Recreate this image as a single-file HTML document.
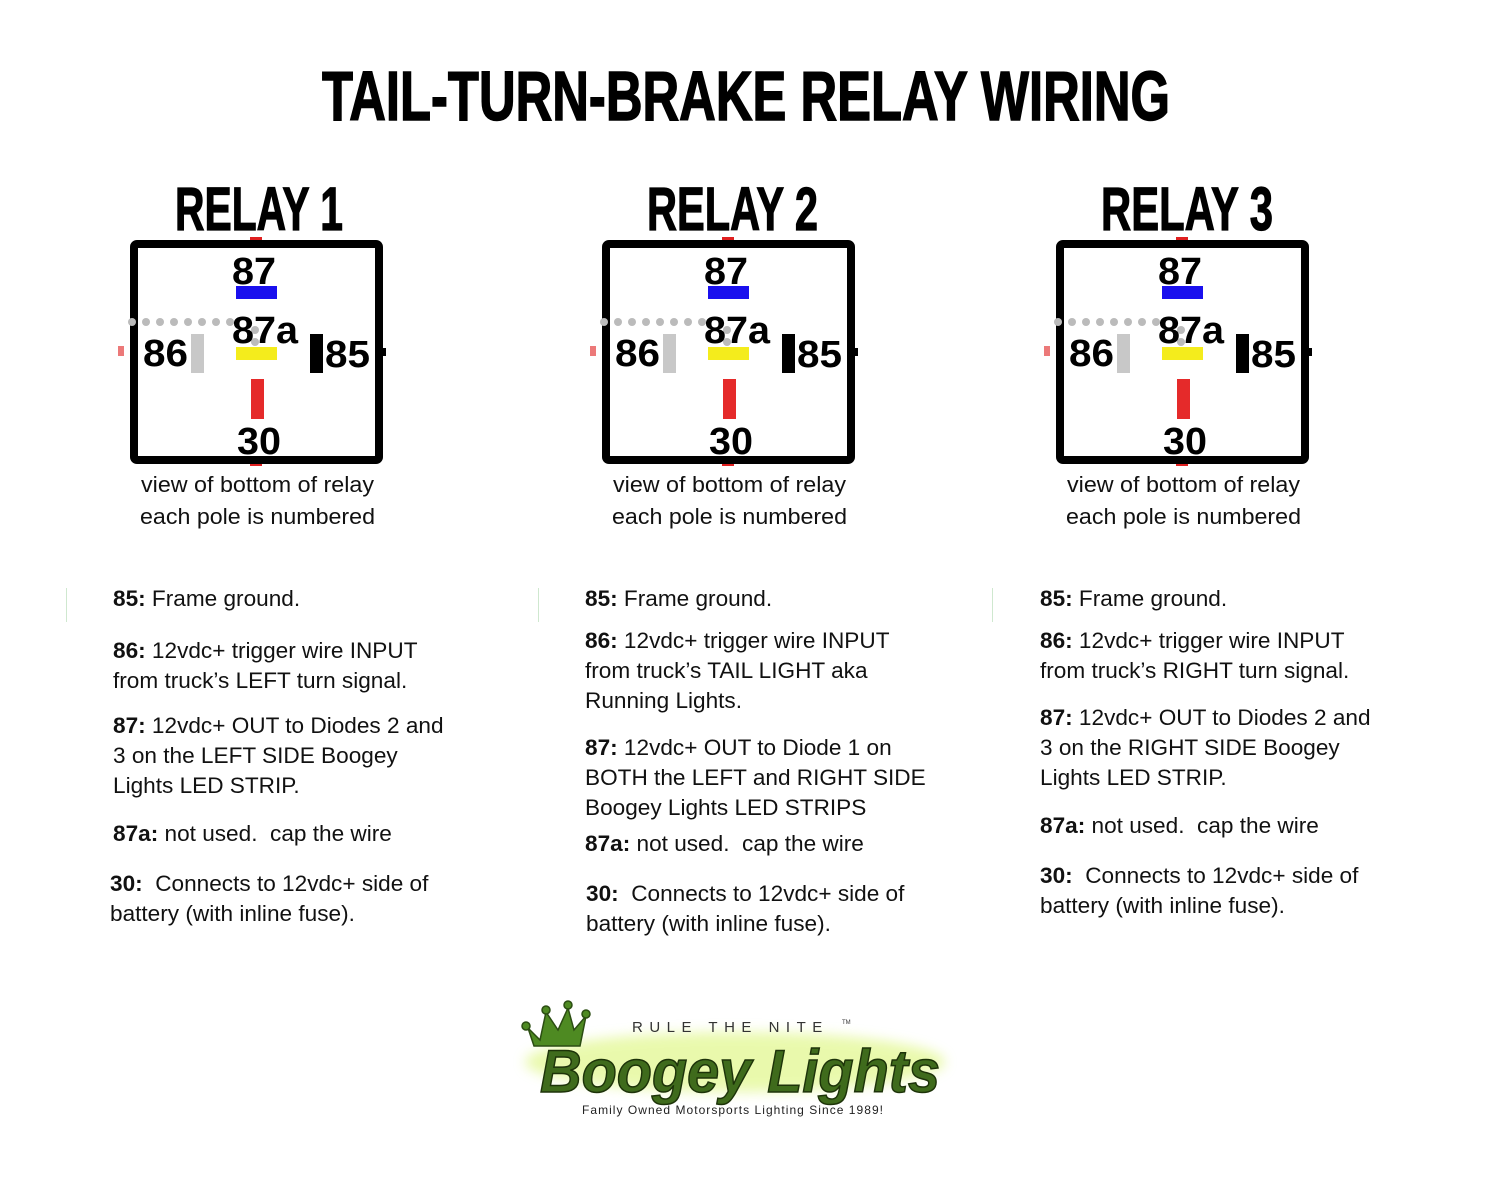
<!DOCTYPE html>
<html><head><meta charset="utf-8"><style>
body{margin:0;width:1500px;height:1200px;background:#fff;position:relative;overflow:hidden;font-family:"Liberation Sans",sans-serif;color:#111}
.a{position:absolute;white-space:nowrap}
.t{font-size:22.6px;line-height:26px}
.t b{font-weight:bold}
</style></head><body>

<svg class="a" style="left:0;top:0" width="1500" height="1200">
<defs>
<g id="rel">
<rect x="250" y="237" width="12" height="8" fill="#e02020"/>
<rect x="250" y="458" width="12" height="8" fill="#e02020"/>
<rect x="118" y="346" width="6" height="10" fill="#e02020" opacity=".6"/>
<rect x="380" y="348" width="6" height="8" fill="#000"/>
<rect x="134" y="244" width="245" height="216" rx="3" fill="none" stroke="#000" stroke-width="8"/>
<g fill="#bbb"><circle cx="132" cy="322" r="4"/><circle cx="146" cy="322" r="4"/><circle cx="160" cy="322" r="4"/><circle cx="174" cy="322" r="4"/><circle cx="188" cy="322" r="4"/><circle cx="202" cy="322" r="4"/><circle cx="216" cy="322" r="4"/><circle cx="230" cy="322" r="4"/><circle cx="255" cy="330" r="4"/><circle cx="255" cy="342" r="4"/></g>
<rect x="236" y="286" width="41" height="13" fill="#1a10ee"/>
<rect x="236" y="347" width="41" height="13" fill="#f4ec1c"/>
<rect x="191" y="334" width="13" height="39" fill="#c8c8c8"/>
<rect x="310" y="334" width="13" height="39" fill="#000"/>
<rect x="251" y="379" width="13" height="40" fill="#e52a2a"/>
<g font-family="Liberation Sans,sans-serif" font-weight="bold" font-size="38" fill="#000">
<text x="232" y="284" textLength="44" lengthAdjust="spacingAndGlyphs">87</text>
<text x="232" y="343" textLength="66" lengthAdjust="spacingAndGlyphs">87a</text>
<text x="143" y="366" textLength="45" lengthAdjust="spacingAndGlyphs">86</text>
<text x="325" y="367" textLength="45" lengthAdjust="spacingAndGlyphs">85</text>
<text x="237" y="454" textLength="44" lengthAdjust="spacingAndGlyphs">30</text>
</g>
<g font-family="Liberation Sans,sans-serif" font-size="22.5" fill="#111">
<text x="141" y="492" textLength="233" lengthAdjust="spacingAndGlyphs">view of bottom of relay</text>
<text x="140" y="524" textLength="235" lengthAdjust="spacingAndGlyphs">each pole is numbered</text>
</g>
</g>
</defs>
<text x="322" y="120" font-family="Liberation Sans,sans-serif" font-weight="bold" font-size="70" fill="#000" stroke="#000" stroke-width="1.5" textLength="848" lengthAdjust="spacingAndGlyphs">TAIL-TURN-BRAKE RELAY WIRING</text>
<g font-family="Liberation Sans,sans-serif" font-weight="bold" font-size="61" fill="#000" stroke="#000" stroke-width="1.2">
<text x="175" y="230" textLength="168" lengthAdjust="spacingAndGlyphs">RELAY 1</text>
<text x="647" y="230" textLength="171" lengthAdjust="spacingAndGlyphs">RELAY 2</text>
<text x="1101" y="230" textLength="172" lengthAdjust="spacingAndGlyphs">RELAY 3</text>
</g>
<use href="#rel"/>
<use href="#rel" x="472"/>
<use href="#rel" x="926"/>
<rect x="66" y="588" width="1" height="34" fill="#cfe8cf"/>
<rect x="538" y="588" width="1" height="34" fill="#cfe8cf"/>
<rect x="992" y="588" width="1" height="34" fill="#cfe8cf"/>
</svg>

<div class="a t" style="left:113px;top:586px"><b>85:</b> Frame ground.</div>
<div class="a t" style="left:113px;top:638px"><b>86:</b> 12vdc+ trigger wire INPUT</div>
<div class="a t" style="left:113px;top:668px">from truck’s LEFT turn signal.</div>
<div class="a t" style="left:113px;top:713px"><b>87:</b> 12vdc+ OUT to Diodes 2 and</div>
<div class="a t" style="left:113px;top:743px">3 on the LEFT SIDE Boogey</div>
<div class="a t" style="left:113px;top:773px">Lights LED STRIP.</div>
<div class="a t" style="left:113px;top:821px"><b>87a:</b> not used.&nbsp; cap the wire</div>
<div class="a t" style="left:110px;top:871px"><b>30:</b>&nbsp; Connects to 12vdc+ side of</div>
<div class="a t" style="left:110px;top:901px">battery (with inline fuse).</div>

<div class="a t" style="left:585px;top:586px"><b>85:</b> Frame ground.</div>
<div class="a t" style="left:585px;top:628px"><b>86:</b> 12vdc+ trigger wire INPUT</div>
<div class="a t" style="left:585px;top:658px">from truck’s TAIL LIGHT aka</div>
<div class="a t" style="left:585px;top:688px">Running Lights.</div>
<div class="a t" style="left:585px;top:735px"><b>87:</b> 12vdc+ OUT to Diode 1 on</div>
<div class="a t" style="left:585px;top:765px">BOTH the LEFT and RIGHT SIDE</div>
<div class="a t" style="left:585px;top:795px">Boogey Lights LED STRIPS</div>
<div class="a t" style="left:585px;top:831px"><b>87a:</b> not used.&nbsp; cap the wire</div>
<div class="a t" style="left:586px;top:881px"><b>30:</b>&nbsp; Connects to 12vdc+ side of</div>
<div class="a t" style="left:586px;top:911px">battery (with inline fuse).</div>

<div class="a t" style="left:1040px;top:586px"><b>85:</b> Frame ground.</div>
<div class="a t" style="left:1040px;top:628px"><b>86:</b> 12vdc+ trigger wire INPUT</div>
<div class="a t" style="left:1040px;top:658px">from truck’s RIGHT turn signal.</div>
<div class="a t" style="left:1040px;top:705px"><b>87:</b> 12vdc+ OUT to Diodes 2 and</div>
<div class="a t" style="left:1040px;top:735px">3 on the RIGHT SIDE Boogey</div>
<div class="a t" style="left:1040px;top:765px">Lights LED STRIP.</div>
<div class="a t" style="left:1040px;top:813px"><b>87a:</b> not used.&nbsp; cap the wire</div>
<div class="a t" style="left:1040px;top:863px"><b>30:</b>&nbsp; Connects to 12vdc+ side of</div>
<div class="a t" style="left:1040px;top:893px">battery (with inline fuse).</div>

<svg class="a" style="left:510px;top:990px" width="450" height="130">
<defs><filter id="gl" x="-20%" y="-40%" width="140%" height="180%"><feGaussianBlur stdDeviation="6"/></filter></defs>
<ellipse cx="225" cy="72" rx="210" ry="30" fill="#d8f56a" opacity=".55" filter="url(#gl)"/>
<g fill="#4e8a22" stroke="#2b4d12" stroke-width="1.5">
<path d="M18 38 L30 50 L36 22 L48 40 L58 18 L64 40 L76 26 L70 56 L24 56 Z"/>
<circle cx="16" cy="36" r="4"/><circle cx="36" cy="20" r="4"/><circle cx="58" cy="15" r="4"/><circle cx="76" cy="24" r="4"/>
</g>
<text x="122" y="42" font-family="Liberation Sans,sans-serif" font-size="15" letter-spacing="6.5" fill="#333">RULE THE NITE</text>
<text x="332" y="34" font-family="Liberation Sans,sans-serif" font-size="6" fill="#333">TM</text>
<text x="30" y="102" font-family="Liberation Sans,sans-serif" font-style="italic" font-weight="bold" font-size="60" fill="#3f6b1c" stroke="#1d3309" stroke-width="1.5" textLength="400" lengthAdjust="spacingAndGlyphs">Boogey Lights</text>
<text x="72" y="124" font-family="Liberation Sans,sans-serif" font-size="12" letter-spacing="1" fill="#222" textLength="302">Family Owned Motorsports Lighting Since 1989!</text>
</svg>
</body></html>
